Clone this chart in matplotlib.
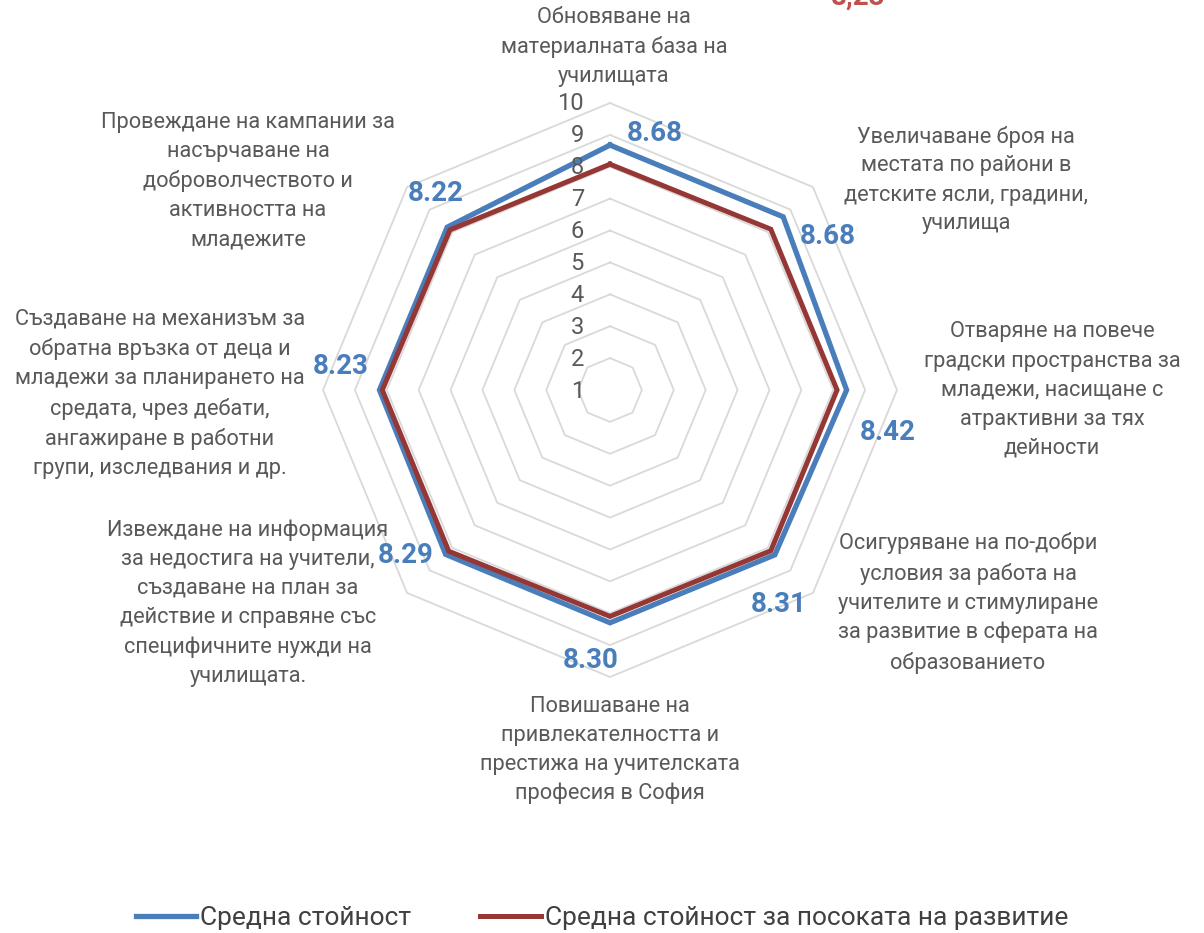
import matplotlib
matplotlib.use('Agg')
import matplotlib.pyplot as plt
import numpy as np

categories = [
    "Обновяване на\nматериалната база на\nучилищата",
    "Увеличаване броя на\nместата по райони в\nдетските ясли, градини,\nучилища",
    "Отваряне на повече\nградски пространства за\nмладежи, насищане с\nатрактивни за тях\nдейности",
    "Осигуряване на по-добри\nусловия за работа на\nучителите и стимулиране\nза развитие в сферата на\nобразованието",
    "Повишаване на\nпривлекателността и\nпрестижа на учителската\nпрофесия в София",
    "Извеждане на информация\nза недостига на учители,\nсъздаване на план за\nдействие и справяне със\nспецифичните нужди на\nучилищата.",
    "Създаване на механизъм за\nобратна връзка от деца и\nмладежи за планирането на\nсредата, чрез дебати,\nангажиране в работни\nгрупи, изследвания и др.",
    "Провеждане на кампании за\nнасърчаване на\nдоброволчеството и\nактивността на\nмладежите",
]
avg_values = [8.68, 8.68, 8.42, 8.31, 8.30, 8.29, 8.23, 8.22]
dir_values = [8.08, 8.13, 8.12, 8.13, 8.10, 8.15, 8.14, 8.10]
ticks = [1, 2, 3, 4, 5, 6, 7, 8, 9, 10]
series_names = ["Средна стойност", "Средна стойност за посоката на развитие"]

BLUE = "#4a7ebb"
RED = "#953735"
GRAY = "#595959"
plt.rcParams['font.family'] = ['Roboto', 'DejaVu Sans']

W, H = 1204, 933
fig = plt.figure(figsize=(W / 100, H / 100), dpi=100)
cx, cy, R = 610, 390, 287
ax = fig.add_axes([(cx - R) / W, (H - cy - R) / H, 2 * R / W, 2 * R / H], polar=True)
ax.set_theta_offset(np.pi / 2)
ax.set_theta_direction(-1)
ax.set_ylim(1, 10)
ax.grid(False)
ax.spines['polar'].set_visible(False)
ax.set_xticks([])
ax.set_yticks([])

n = len(categories)
theta = np.arange(n) * 2 * np.pi / n
tc = np.append(theta, theta[0])

# polygon grid
for lv in ticks[1:]:
    ax.plot(tc, [lv] * (n + 1), color="#d9d9d9", lw=1.3, clip_on=False, zorder=1)

ax.plot(tc, avg_values + avg_values[:1], color=BLUE, lw=3.8, clip_on=False, zorder=3,
        label=series_names[0], solid_joinstyle='miter')
ax.plot(tc, dir_values + dir_values[:1], color=RED, lw=3.6, clip_on=False, zorder=4,
        label=series_names[1], solid_joinstyle='miter')

# radial tick labels
for t in ticks:
    ax.annotate(str(t), xy=(0, t), xytext=(-26, -1), textcoords='offset pixels',
                ha='right', va='center', fontsize=17, color=GRAY, annotation_clip=False)

# data labels
offs = [(45, 12), (45, -20), (41, -43), (4, -50), (-19, -38), (-40, -1), (-39, 23), (-12, 34)]
for th, v, (dx, dy) in zip(theta, avg_values, offs):
    ax.annotate(f"{v:.2f}", xy=(th, v), xytext=(dx, dy), textcoords='offset pixels',
                ha='center', va='center', fontsize=20, fontweight='bold', color=BLUE,
                annotation_clip=False, zorder=5)

# category labels
label_pos = [(614, 47), (966, 180), (1052, 390), (968, 603),
             (610, 750), (248, 603), (160, 394), (248, 181)]
for txt, (x, y) in zip(categories, label_pos):
    fig.text(x / W, 1 - y / H, txt, ha='center', va='center', fontsize=15.7,
             color=GRAY, linespacing=1.5)

# red label cut off at the top edge, as in the original
fig.text(858 / W, 1 + 3 / H, "8,23", ha='center', va='center', fontsize=20,
         fontweight='bold', color="#c0504d")

fig.legend(loc='center', bbox_to_anchor=(0.5, 1 - 918 / H), ncol=2, frameon=False,
           fontsize=19, handlelength=2.3, handletextpad=0.15, columnspacing=2.6,
           labelcolor="#404040")

fig.savefig('out.png', dpi=100)
